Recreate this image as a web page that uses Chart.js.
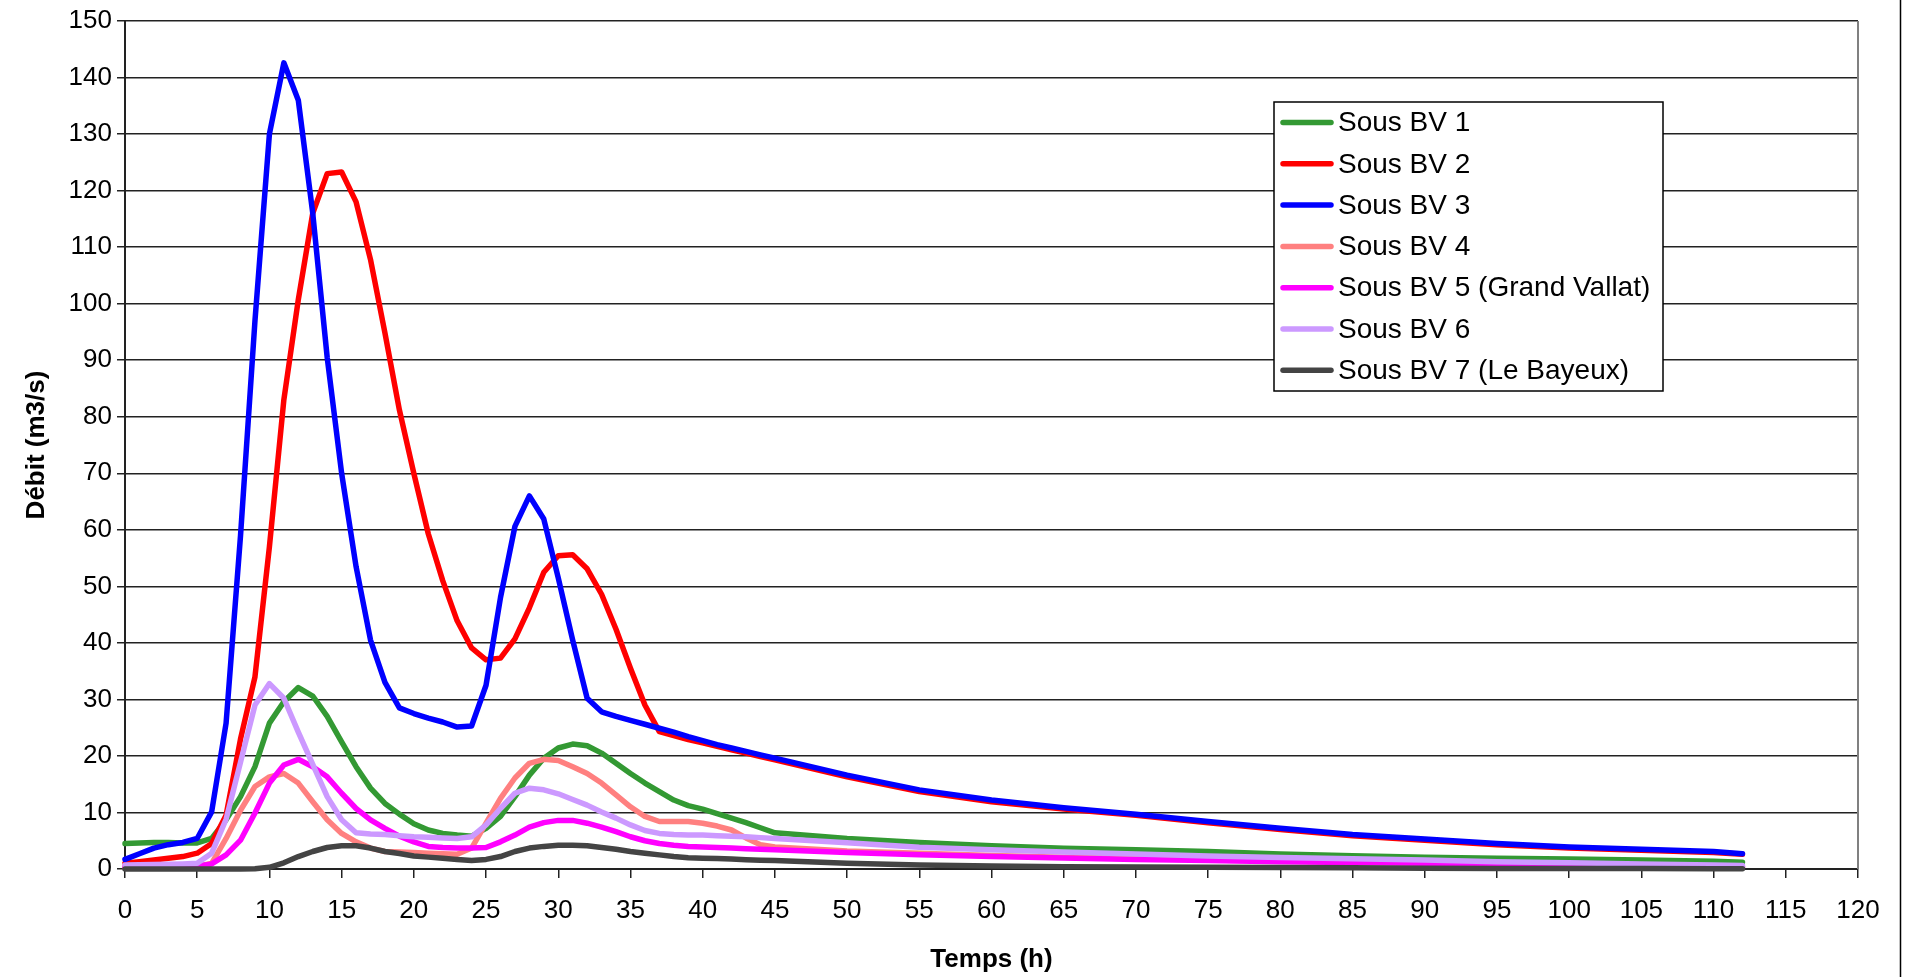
<!DOCTYPE html>
<html>
<head>
<meta charset="utf-8">
<script src="https://cdn.jsdelivr.net/npm/chart.js@4.4.1/dist/chart.umd.min.js"></script>
<style>
  html, body { margin: 0; padding: 0; background: #fff; }
  canvas { display: block; }
</style>
</head>
<body>
<canvas id="canvas" width="1908" height="977"></canvas>
<script>
// temps (h)
const hours = [0, 1, 2, 3, 4, 5, 6, 7, 8, 9, 10, 11, 12, 13, 14, 15, 16, 17, 18, 19,
  20, 21, 22, 23, 24, 25, 26, 27, 28, 29, 30, 31, 32, 33, 34, 35, 36, 37, 38, 39,
  40, 41, 42, 43, 44, 45, 50, 55, 60, 65, 70, 75, 80, 85, 90, 95, 100, 105, 110, 112];

// debits (m3/s)
const sousBV1 = [4.5, 4.6, 4.7, 4.7, 4.6, 4.6, 5.4, 8.7, 12.8, 18.1, 25.8, 29.6, 32.1, 30.6, 27.0, 22.5, 18.1, 14.3, 11.6, 9.7,
  8.0, 6.9, 6.3, 6.0, 5.8, 7.2, 9.3, 12.8, 16.6, 19.6, 21.4, 22.1, 21.8, 20.5, 18.7, 16.9, 15.2, 13.7, 12.2, 11.2,
  10.6, 9.8, 9.0, 8.2, 7.3, 6.4, 5.4, 4.7, 4.1, 3.65, 3.4, 3.1, 2.65, 2.35, 2.1, 1.9, 1.75, 1.6, 1.35, 1.2];
const sousBV2 = [1.0, 1.3, 1.6, 1.9, 2.2, 2.8, 4.5, 9.5, 23, 34, 57, 83, 100.7, 116, 123, 123.3, 118, 107.8, 94.8, 81.2,
  70, 59.3, 51, 43.9, 39.1, 37, 37.3, 40.7, 46.2, 52.5, 55.4, 55.6, 53.1, 48.6, 42.4, 35.5, 29, 24.3, 23.6, 22.9,
  22.3, 21.7, 21.1, 20.5, 19.9, 19.3, 16.3, 13.7, 11.9, 10.6, 9.5, 8.2, 7.0, 5.9, 5.1, 4.3, 3.7, 3.3, 2.9, 2.6];
const sousBV3 = [1.7, 2.7, 3.7, 4.3, 4.7, 5.4, 10.1, 25.8, 59, 97, 130, 142.6, 136, 116, 90.5, 70, 53.5, 40.5, 33, 28.5,
  27.5, 26.7, 26, 25.1, 25.3, 32.5, 48, 60.6, 66, 61.9, 51.5, 40.5, 30.2, 27.8, 27.0, 26.3, 25.6, 24.9, 24.2, 23.4,
  22.7, 22.0, 21.4, 20.8, 20.2, 19.6, 16.6, 14.0, 12.2, 10.85, 9.7, 8.4, 7.2, 6.1, 5.3, 4.5, 3.9, 3.5, 3.1, 2.7];
const sousBV4 = [0.4, 0.4, 0.4, 0.4, 0.45, 0.5, 1.0, 5.4, 10.4, 14.6, 16.3, 16.9, 15.2, 11.9, 8.7, 6.3, 4.8, 3.7, 3.1, 3.0,
  2.9, 2.8, 2.7, 2.6, 3.7, 8.1, 12.5, 16.1, 18.7, 19.4, 19.2, 18.1, 16.9, 15.2, 13.1, 11.0, 9.3, 8.4, 8.4, 8.4,
  8.1, 7.6, 6.9, 5.5, 4.3, 3.9, 3.2, 2.8, 2.4, 2.1, 1.85, 1.6, 1.4, 1.25, 1.1, 0.9, 0.7, 0.55, 0.4, 0.35];
const sousBV5 = [0.4, 0.4, 0.4, 0.4, 0.45, 0.5, 0.9, 2.5, 5.1, 9.9, 15.2, 18.4, 19.4, 18.1, 16.3, 13.4, 10.7, 8.7, 7.2, 5.8,
  4.8, 4.0, 3.8, 3.7, 3.7, 3.8, 4.8, 6.0, 7.4, 8.2, 8.6, 8.6, 8.1, 7.4, 6.6, 5.7, 5.0, 4.5, 4.2, 4.0,
  3.9, 3.8, 3.7, 3.6, 3.5, 3.4, 2.9, 2.5, 2.2, 1.95, 1.7, 1.5, 1.3, 1.15, 1.0, 0.8, 0.6, 0.5, 0.35, 0.3];
const sousBV6 = [0.7, 0.75, 0.8, 0.85, 0.9, 1.0, 2.8, 8.8, 18.9, 29, 32.8, 30.2, 24.2, 18.5, 12.8, 8.7, 6.4, 6.2, 6.1, 5.9,
  5.7, 5.6, 5.5, 5.4, 5.7, 7.8, 10.7, 13.4, 14.3, 14.0, 13.3, 12.3, 11.3, 10.1, 9.0, 7.8, 6.8, 6.3, 6.1, 6.0,
  6.0, 5.9, 5.8, 5.7, 5.55, 5.4, 4.65, 3.85, 3.4, 3.0, 2.65, 2.3, 2.05, 1.8, 1.6, 1.3, 1.1, 0.9, 0.7, 0.6];
const sousBV7 = [0, 0, 0, 0, 0, 0, 0, 0, 0, 0.05, 0.3, 1.1, 2.2, 3.1, 3.8, 4.1, 4.1, 3.7, 3.1, 2.75,
  2.3, 2.1, 1.9, 1.7, 1.5, 1.7, 2.2, 3.1, 3.7, 4.0, 4.2, 4.2, 4.1, 3.8, 3.5, 3.1, 2.8, 2.5, 2.2, 2.0,
  1.9, 1.85, 1.75, 1.65, 1.55, 1.5, 1.0, 0.7, 0.55, 0.4, 0.35, 0.3, 0.25, 0.2, 0.15, 0.1, 0.1, 0.1, 0.05, 0.05];

const seriesNames = ["Sous BV 1", "Sous BV 2", "Sous BV 3", "Sous BV 4",
  "Sous BV 5 (Grand Vallat)", "Sous BV 6", "Sous BV 7 (Le Bayeux)"];
const seriesValues = [sousBV1, sousBV2, sousBV3, sousBV4, sousBV5, sousBV6, sousBV7];
const seriesColors = ["#339933", "#ff0000", "#0000ff", "#ff8080", "#ff00ff", "#cc99ff", "#444444"];

const FONT = "'Liberation Sans', Arial, sans-serif";
Chart.defaults.font.family = FONT;
Chart.defaults.color = "#000";

const toPoints = (values) => values.map((v, i) => ({ x: hours[i], y: v }));

// cadre du graphique + bord droit de la zone de traçage
const frame = {
  id: "frame",
  beforeDatasetsDraw(chart) {
    const { ctx, chartArea } = chart;
    ctx.save();
    ctx.strokeStyle = "#808080";
    ctx.lineWidth = 2;
    ctx.beginPath();
    ctx.moveTo(chartArea.right, chartArea.top);
    ctx.lineTo(chartArea.right, chartArea.bottom);
    ctx.stroke();
    ctx.strokeStyle = "#000";
    ctx.lineWidth = 1.5;
    ctx.beginPath();
    ctx.moveTo(1900.5, 0);
    ctx.lineTo(1900.5, chart.height);
    ctx.stroke();
    ctx.restore();
  },
};

// legende encadree dans la zone de traçage
const boxLegend = {
  id: "boxLegend",
  afterDraw(chart) {
    const ctx = chart.ctx;
    const x = 1274, y = 102, w = 389, h = 289;
    ctx.save();
    ctx.fillStyle = "#fff";
    ctx.fillRect(x, y, w, h);
    ctx.strokeStyle = "#000";
    ctx.lineWidth = 1.5;
    ctx.strokeRect(x, y, w, h);
    ctx.font = "28px " + FONT;
    ctx.textBaseline = "middle";
    seriesNames.forEach((name, i) => {
      const ly = 122.5 + i * 41.3;
      ctx.strokeStyle = seriesColors[i];
      ctx.lineWidth = 5.5;
      ctx.lineCap = "round";
      ctx.beginPath();
      ctx.moveTo(x + 9, ly);
      ctx.lineTo(x + 57, ly);
      ctx.stroke();
      ctx.fillStyle = "#000";
      ctx.fillText(name, 1338, ly + 1);
    });
    ctx.restore();
  },
};

const datasets = seriesNames.map((name, i) => ({
  label: name,
  data: toPoints(seriesValues[i]),
  borderColor: seriesColors[i],
  backgroundColor: seriesColors[i],
  borderWidth: 5.5,
  pointRadius: 0,
  tension: 0,
  borderJoinStyle: "round",
  borderCapStyle: "round",
  clip: false,
  order: 6 - i,
}));

const config = {
  type: "line",
  data: { datasets: datasets },
  options: {
    responsive: false,
    animation: false,
    devicePixelRatio: 1,
    layout: { padding: { left: 0, right: 50, top: 21, bottom: 0 } },
    plugins: { legend: { display: false }, tooltip: { enabled: false } },
    scales: {
      x: {
        type: "linear",
        min: 0,
        max: 120,
        ticks: { stepSize: 5, font: { size: 26 }, padding: 17, maxRotation: 0 },
        grid: { drawOnChartArea: false, drawTicks: true, tickLength: 9, color: "#222", lineWidth: 1.5 },
        border: { color: "#222", width: 2 },
        title: { display: true, text: "Temps (h)", font: { size: 26, weight: "bold" }, padding: { top: 0, bottom: 2 } },
        afterFit: (scale) => { scale.height = 108; },
      },
      y: {
        min: 0,
        max: 150,
        ticks: { stepSize: 10, font: { size: 26 }, padding: 5 },
        grid: { color: "#222", lineWidth: 1.5, tickLength: 8 },
        border: { color: "#222", width: 2 },
        title: { display: true, text: "Débit (m3/s)", font: { size: 26, weight: "bold" }, padding: { top: 21, bottom: 0 } },
        afterFit: (scale) => { scale.width = 125; },
      },
    },
  },
  plugins: [frame, boxLegend],
};

new Chart(document.getElementById("canvas"), config);
</script>
</body>
</html>
